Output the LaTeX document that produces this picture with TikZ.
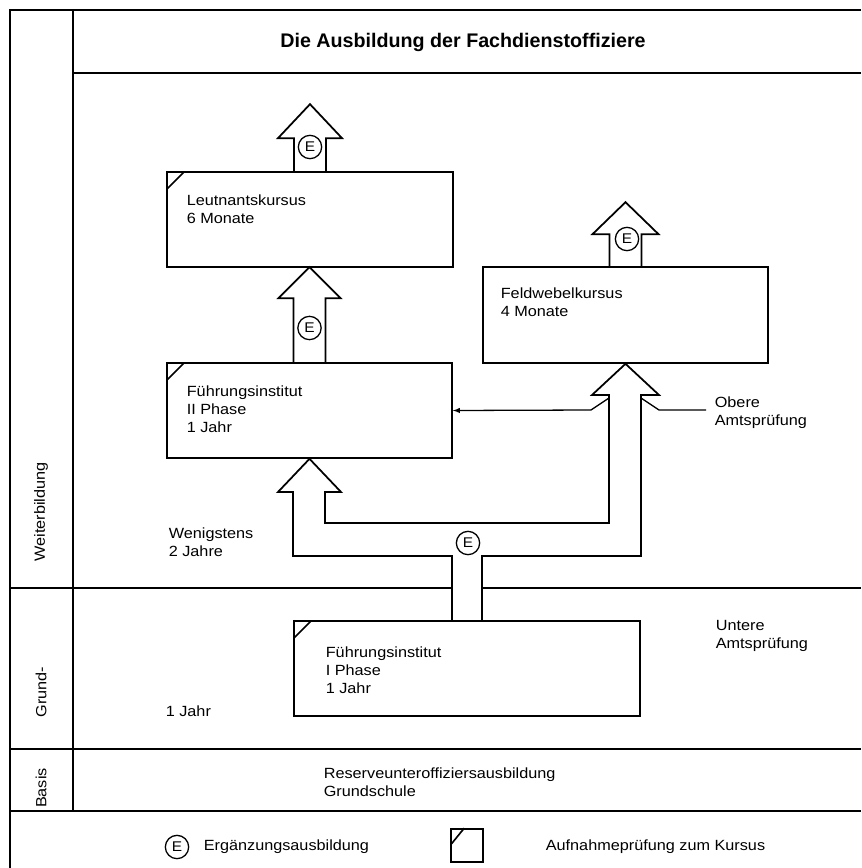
\documentclass[tikz,border=0pt]{standalone}
\usepackage{fontspec}
\setmainfont{Liberation Sans}[FakeStretch=1.1]
\newfontfamily\titelfont{Liberation Sans}
\usetikzlibrary{arrows,positioning,calc}

\begin{document}
\begin{tikzpicture}[x=0.03cm, y=-0.03cm, >=latex, line width=1.4pt,
  every node/.style={font=\fontsize{12.6}{15.4}\selectfont}]
\tikzstyle{kasten}=[draw, rectangle, inner sep=0pt]
\tikzstyle{ecke}=[path picture={\draw ([yshift=-0.51cm]path picture bounding box.north west) -- ([xshift=0.51cm]path picture bounding box.north west);}]
\tikzstyle{ergaenzung}=[draw, circle, inner sep=0pt, minimum size=0.7cm, line width=1.1pt, font=\fontsize{12}{14}\selectfont]
\tikzstyle{txt}=[align=left, anchor=west, inner sep=0pt]
\tikzstyle{pfeil}=[line width=1.5pt, line join=miter]
\useasboundingbox (0,0) rectangle (861,868);

% Rahmen
\draw (10,868) -- (10,10) -- (861,10);
\draw (73,10) -- (73,811);
\draw (73,73) -- (861,73);
\draw (10,588) -- (452,588) (482,588) -- (861,588);
\draw (10,749) -- (861,749);
\draw (10,811) -- (861,811);

\node[font=\titelfont\bfseries\fontsize{16.8}{20}\selectfont] (titel) at (463,42) {Die Ausbildung der Fachdienstoffiziere};
\node[rotate=90] (weiter) at (41,512) {Weiterbildung};
\node[rotate=90] (grund) at (41,692) {Grund-};
\node[rotate=90] (basis) at (41,788) {Basis};

% Kurse
\node[kasten, ecke, minimum width=8.58cm, minimum height=2.85cm] (leutnant) at (310,219.5) {};
\node[kasten, ecke, minimum width=8.55cm, minimum height=2.85cm] (phase2) at (309.5,410.5) {};
\node[kasten, minimum width=8.55cm, minimum height=2.88cm] (feldwebel) at (625.5,315) {};
\node[kasten, ecke, minimum width=10.38cm, minimum height=2.85cm] (phase1) at (467,668.5) {};

\node[txt] (t-leutnant) at (186,209) {Leutnantskursus\\6 Monate};
\node[txt] (t-phase2) at (186,409) {Führungsinstitut\\II Phase\\1 Jahr};
\node[txt] (t-feldwebel) at (500,302) {Feldwebelkursus\\4 Monate};
\node[txt] (t-phase1) at (325,670) {Führungsinstitut\\I Phase\\1 Jahr};

% Pfeile
\draw[pfeil] ($(leutnant.north)+(-16,0)$) -- ++(0,-33) -- ++(-16,0) -- ++(32,-34) -- ++(32,34) -- ++(-16,0) -- ++(0,33);
\draw[pfeil] ($(phase2.north)+(-16,0)$) -- ++(0,-64) -- ++(-15,0) -- ++(31,-31) -- ++(31,31) -- ++(-15,0) -- ++(0,64);
\draw[pfeil] ($(feldwebel.north)+(-16,0)$) -- ++(0,-32) -- ++(-17,0) -- ++(33,-32) -- ++(33,32) -- ++(-17,0) -- ++(0,32);
\draw[pfeil] ($(phase1.north)+(-15,0)$) |- (293,556) -- (293,492) -- (278,492) -- (phase2.south)
  -- (341,492) -- (325,492) -- (325,523) -- (609,523) -- (609,395) -- (592,395) -- (feldwebel.south)
  -- (659,395) -- (641,395) -- (641,556) -| ($(phase1.north)+(15,0)$);

\node[txt] (obere) at (714,413) {Obere\\Amtsprüfung};
\draw[->, line width=1.1pt] (609,398) -- (591,410) -- (phase2.east);
\draw[line width=1.1pt] (641,398) -- (659,410) -- ([xshift=-0.24cm]obere.west |- 0,410);

\node[ergaenzung] (e1) at (310,147) {E};
\node[ergaenzung] (e2) at (309.5,328) {E};
\node[ergaenzung] (e3) at (627,239) {E};
\node[ergaenzung] (e4) at (468,543) {E};

% Zeitangaben
\node[txt] (wenigstens) at (168,542) {Wenigstens\\2 Jahre};
\node[txt] (jahr) at (165,711) {1 Jahr};
\node[txt] (untere) at (715,636) {Untere\\Amtsprüfung};
\node[txt] (reserve) at (323,782) {Reserveunteroffiziersausbildung\\Grundschule};

% Legende
\node[ergaenzung] (e5) at (177,847) {E};
\node[txt] (l-ergaenzung) at (203,847) {Ergänzungsausbildung};
\node[kasten, minimum width=0.96cm, minimum height=0.99cm] (aufnahme) at (467,845.5) {};
\draw ($(aufnahme.north west)+(1,16)$) -- ($(aufnahme.north west)+(14,0)$);
\node[txt] (l-aufnahme) at (545,847) {Aufnahmeprüfung zum Kursus};
\end{tikzpicture}
\end{document}
